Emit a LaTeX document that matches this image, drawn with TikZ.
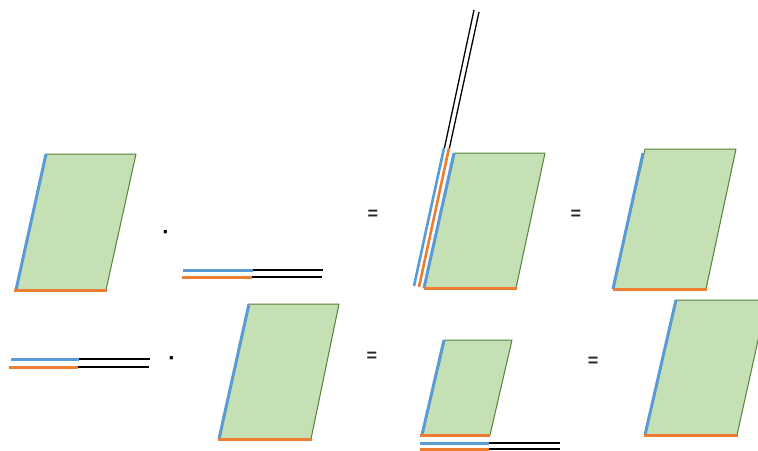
\documentclass[tikz,border=0pt]{standalone}
\usepackage{fontspec}
\setmainfont{Liberation Sans}
\definecolor{pfill}{HTML}{C5E0B4}
\definecolor{pdraw}{HTML}{548235}
\definecolor{eblue}{HTML}{5B9BD5}
\definecolor{eorange}{HTML}{ED7D31}
\tikzset{
  para/.style={fill=pfill,draw=pdraw,line width=1pt,line join=round},
  bedge/.style={draw=eblue,line width=3pt},
  oedge/.style={draw=eorange,line width=3pt},
  bline/.style={draw=black,line width=2pt},
  eqsign/.style={font=\bfseries\fontsize{18}{18}\selectfont,inner sep=0pt,text=black!85},
  dotsign/.style={font=\bfseries\fontsize{22}{22}\selectfont,inner sep=0pt}
}
\begin{document}
\begin{tikzpicture}[x=1pt,y=-1pt]
\useasboundingbox (0,0) rectangle (758,450);
\clip (0,0) rectangle (758,450);
% ---- row 1 ----
% parallelogram A
\draw[para] (16,290) -- (106,290) -- (136,154) -- (46,154) -- cycle;
\draw[bedge] (16,290) -- (46,154);
\draw[oedge] (14,290) -- (107,290);
\node[dotsign] (d1) at (166,235) {·};
% line pair 1
\draw[bline] (252,270) -- (323,270);
\draw[bedge] (183,270) -- (253,270);
\draw[bline] (251,277) -- (322,277);
\draw[oedge] (182,277) -- (252,277);
\node[eqsign] (e1) at (373,215) {=};
% parallelogram B with raised lines
\draw[para] (424,288) -- (516,288) -- (545,153) -- (455,153) -- cycle;
\draw[bedge] (424,288) -- (454,153);
\draw[oedge] (424,288) -- (517,288);
\draw[draw=black,line width=1.3pt] (444,150) -- (474,10);
\draw[draw=black,line width=1.3pt] (449,150) -- (479,12);
\draw[bedge,line width=2.6pt] (414,286) -- (444,148);
\draw[oedge,line width=2.6pt] (419,287) -- (449,148);
\node[eqsign] (e2) at (576,215) {=};
% parallelogram C
\draw[para] (613,289) -- (706,289) -- (736,149) -- (645,149) -- cycle;
\draw[bedge] (613,289) -- (643,153);
\draw[oedge] (613,289) -- (707,289);
% ---- row 2 ----
\draw[bline] (78,359) -- (150,359);
\draw[bedge] (11,359) -- (79,359);
\draw[bline] (77,367) -- (149,367);
\draw[oedge] (9,367) -- (78,367);
\node[dotsign] (d2) at (172,361) {·};
% parallelogram D
\draw[para] (219,439) -- (311,439) -- (339,304) -- (249,304) -- cycle;
\draw[bedge] (219,439) -- (249,304);
\draw[oedge] (218,439) -- (312,439);
\node[eqsign] (e3) at (372,357) {=};
% small parallelogram E
\draw[para] (422,435) -- (490,435) -- (512,340) -- (445,340) -- cycle;
\draw[bedge] (422,435) -- (444,340);
\draw[oedge] (420,435) -- (490,435);
\draw[bline] (488,443) -- (560,443);
\draw[bedge] (420,443) -- (489,443);
\draw[bline] (488,449) -- (560,449);
\draw[oedge] (420,449) -- (489,449);
\node[eqsign] (e4) at (593,362) {=};
% parallelogram F
\draw[para] (645,435) -- (737,435) -- (767,300) -- (676,300) -- cycle;
\draw[bedge] (645,435) -- (676,300);
\draw[oedge] (644,435) -- (738,435);
\end{tikzpicture}
\end{document}
